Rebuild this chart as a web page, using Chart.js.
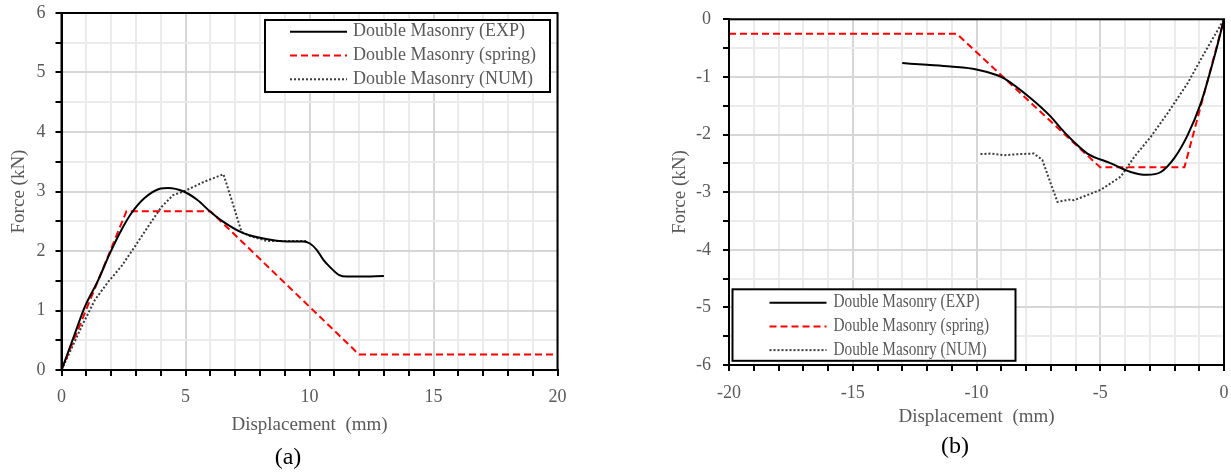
<!DOCTYPE html>
<html><head><meta charset="utf-8">
<script src="https://cdn.jsdelivr.net/npm/chart.js@4.4.1/dist/chart.umd.min.js"></script>
<style>
html,body{margin:0;padding:0;background:#fff;width:1231px;height:472px;overflow:hidden;}
#wa{position:absolute;left:0;top:0;width:600px;height:472px;}
#wb{position:absolute;left:620px;top:0;width:611px;height:472px;}
.cap{position:absolute;font-family:"Liberation Serif","Times New Roman",serif;font-size:24px;color:#000;transform:translate(-50%,-50%);white-space:nowrap;}
</style></head><body>
<div id="wa"><canvas id="ca" width="600" height="472"></canvas></div>
<div id="wb"><canvas id="cb" width="611" height="472"></canvas></div>
<div class="cap" style="left:288px;top:456px;">(a)</div>
<div class="cap" style="left:955px;top:445px;">(b)</div>
<script>
// ---- Data: panel (a) ----
const seriesLabels = ["Double Masonry (EXP)", "Double Masonry (spring)", "Double Masonry (NUM)"];
const expA_x = [0, 0.47, 0.94, 1.48, 1.95, 2.41, 2.81, 3.35, 4.0, 4.3, 4.93, 5.47, 6.0, 6.53, 7.33, 8.14, 9.08, 9.75, 10.0, 10.29, 10.56, 10.85, 11.18, 11.5, 12.0, 13.0];
const expA_y = [0, 0.53, 1.06, 1.51, 1.96, 2.35, 2.63, 2.89, 3.05, 3.06, 3.0, 2.86, 2.66, 2.49, 2.30, 2.21, 2.16, 2.16, 2.13, 2.02, 1.85, 1.72, 1.60, 1.57, 1.57, 1.58];
const springA_x = [0, 2.62, 6.0, 12.0, 20];
const springA_y = [0, 2.67, 2.67, 0.26, 0.26];
const numA_x = [0, 0.81, 1.35, 1.88, 2.41, 2.95, 3.49, 4.03, 4.5, 4.93, 5.73, 6.53, 6.86, 7.26, 7.6, 8.27, 9.88];
const numA_y = [0, 0.73, 1.18, 1.48, 1.74, 2.07, 2.41, 2.74, 2.94, 3.0, 3.16, 3.29, 2.86, 2.32, 2.25, 2.17, 2.17];
// ---- Data: panel (b) ----
const expB_x = [-13.0, -12.0, -11.05, -10.0, -9.16, -8.9, -7.81, -7.0, -6.6, -6.06, -5.52, -4.57, -3.77, -3.12, -2.55, -2.01, -1.47, -0.94, -0.39, 0];
const expB_y = [-0.76, -0.79, -0.82, -0.87, -0.97, -1.02, -1.37, -1.69, -1.89, -2.13, -2.33, -2.5, -2.65, -2.70, -2.65, -2.41, -2.01, -1.46, -0.65, 0];
const springB_x = [-20, -10.8, -5.0, -1.6, 0];
const springB_y = [-0.25, -0.25, -2.57, -2.57, 0];
const numB_x = [-9.84, -9.4, -8.9, -8.3, -7.68, -7.34, -7.0, -6.73, -6.26, -6.06, -4.98, -4.17, -3.63, -2.96, -2.28, -1.47, -0.8, 0];
const numB_y = [-2.34, -2.33, -2.36, -2.34, -2.33, -2.44, -2.85, -3.17, -3.13, -3.14, -2.96, -2.73, -2.39, -2.04, -1.63, -1.11, -0.59, 0];
// ---- Axis text ----
const xTitle = "Displacement  (mm)";
const yTitle = "Force (kN)";

const SERIF = '"Liberation Serif","Times New Roman",serif';
const pts = (xs, ys) => xs.map((x, i) => ({x: x, y: ys[i]}));

function makeDatasets(ex, ey, sx, sy, nx, ny) {
  return [
    {label: seriesLabels[0], data: pts(ex, ey), borderColor: '#000', borderWidth: 2, borderDash: [], cubicInterpolationMode: 'monotone', pointRadius: 0},
    {label: seriesLabels[1], data: pts(sx, sy), borderColor: '#ff0000', borderWidth: 2, borderDash: [7, 4], tension: 0, pointRadius: 0},
    {label: seriesLabels[2], data: pts(nx, ny), borderColor: '#3a3a3a', borderWidth: 2, borderDash: [2, 2], tension: 0, pointRadius: 0}
  ];
}

const framePlugin = {
  id: 'frame',
  afterDraw(chart) {
    const a = chart.chartArea, ctx = chart.ctx;
    ctx.save();
    ctx.strokeStyle = '#000'; ctx.lineWidth = 2;
    ctx.strokeRect(a.left, a.top, a.right - a.left, a.bottom - a.top);
    ctx.restore();
  }
};

const boxLegend = {
  id: 'boxLegend',
  afterDatasetsDraw(chart, args, o) {
    const ctx = chart.ctx, b = o.box;
    ctx.save();
    ctx.fillStyle = '#fff'; ctx.fillRect(b.x, b.y, b.w, b.h);
    ctx.lineWidth = 2; ctx.strokeStyle = '#000'; ctx.setLineDash([]);
    ctx.strokeRect(b.x, b.y, b.w, b.h);
    chart.data.datasets.forEach((ds, i) => {
      const y = b.y + o.row0 + i * o.rowGap;
      ctx.beginPath();
      ctx.setLineDash(ds.borderDash || []);
      ctx.lineWidth = ds.borderWidth; ctx.strokeStyle = ds.borderColor;
      ctx.moveTo(b.x + o.lx0, y); ctx.lineTo(b.x + o.lx1, y); ctx.stroke();
      ctx.setLineDash([]);
      ctx.fillStyle = '#595959';
      ctx.font = o.fontSize + 'px ' + SERIF;
      ctx.textBaseline = 'middle'; ctx.textAlign = 'left';
      const w = ctx.measureText(ds.label).width;
      ctx.fillText(ds.label, b.x + o.tx, y, w * o.squeeze);
    });
    ctx.restore();
  }
};

function zeroPad(s) { s.paddingTop = 0; s.paddingBottom = 0; s.paddingLeft = 0; s.paddingRight = 0; }

function makeChart(id, datasets, c) {
  return new Chart(document.getElementById(id), {
    type: 'line',
    data: {datasets: datasets},
    plugins: [framePlugin, boxLegend],
    options: {
      responsive: false, animation: false, devicePixelRatio: 1,
      layout: {padding: c.pad},
      plugins: {legend: {display: false}, tooltip: {enabled: false}, boxLegend: c.legend},
      scales: {
        x: {
          type: 'linear', min: c.xmin, max: c.xmax,
          afterFit: s => { s.height = c.xh; zeroPad(s); },
          grid: {
            color: t => (t.tick && Math.abs(t.tick.value % 5) < 1e-9) ? '#d6d6d6' : '#ebebeb',
            lineWidth: 2, tickColor: '#000', tickWidth: 2, tickLength: 6
          },
          border: {color: '#000', width: 2},
          ticks: {
            stepSize: 1, autoSkip: false, maxRotation: 0, padding: c.xtickPad,
            color: '#595959', font: {family: SERIF, size: 18},
            callback: v => (Math.abs(v % 5) < 1e-9) ? String(v) : ''
          },
          title: {display: true, text: xTitle, color: '#595959', font: {family: SERIF, size: 19}, padding: {top: 0, bottom: c.xtp}}
        },
        y: {
          type: 'linear', min: c.ymin, max: c.ymax,
          afterFit: s => { s.width = c.yw; zeroPad(s); },
          grid: {
            color: t => (t.tick && Math.abs(t.tick.value % 1) < 1e-9) ? '#d6d6d6' : '#ebebeb',
            lineWidth: 2, tickColor: '#000', tickWidth: 2, tickLength: 6
          },
          border: {color: '#000', width: 2},
          ticks: {
            stepSize: 0.5, autoSkip: false, padding: c.ytickPad,
            color: '#595959', font: {family: SERIF, size: 18},
            callback: v => (Math.abs(v % 1) < 1e-9) ? String(v) : ''
          },
          title: {display: true, text: yTitle, color: '#595959', font: {family: SERIF, size: 19}, padding: {top: c.ytp, bottom: 0}}
        }
      }
    }
  });
}

makeChart('ca', makeDatasets(expA_x, expA_y, springA_x, springA_y, numA_x, numA_y), {
  xmin: 0, xmax: 20, ymin: 0, ymax: 6,
  pad: {left: 0, top: 13, right: 42.5, bottom: 0},
  xh: 102, yw: 61.5, xtp: 35.6, ytp: 7.6, ytickPad: 10, xtickPad: 10,
  legend: {box: {x: 265, y: 20, w: 285, h: 72}, row0: 11.7, rowGap: 23.8, lx0: 25, lx1: 82, tx: 88, fontSize: 18, squeeze: 1.0}
});

makeChart('cb', makeDatasets(expB_x, expB_y, springB_x, springB_y, numB_x, numB_y), {
  xmin: -20, xmax: 0, ymin: -6, ymax: 0,
  pad: {left: 0, top: 19.3, right: 7, bottom: 0},
  xh: 107, yw: 109, xtp: 43.9, ytp: 48.6, ytickPad: 12, xtickPad: 11,
  legend: {box: {x: 112.5, y: 289.3, w: 283, h: 71.5}, row0: 13.4, rowGap: 23.7, lx0: 37, lx1: 94, tx: 101, fontSize: 18, squeeze: 0.85}
});
</script>
</body></html>
